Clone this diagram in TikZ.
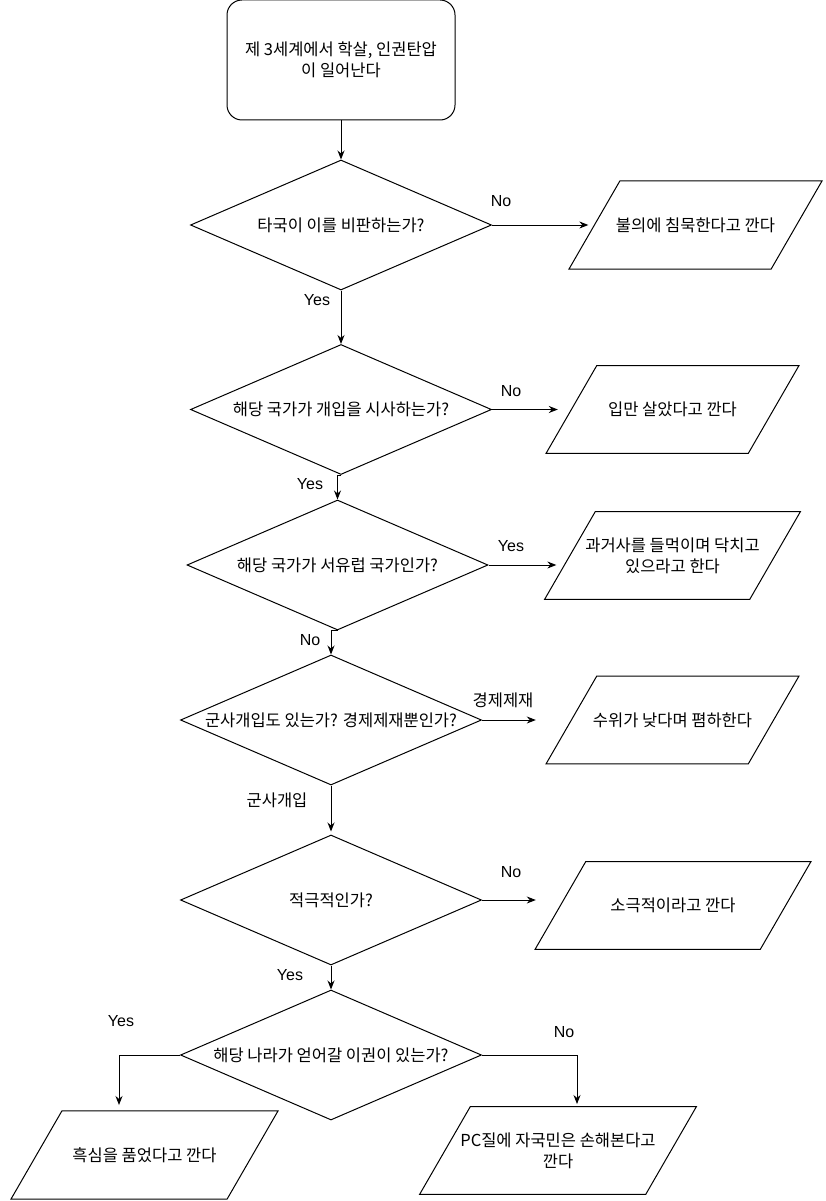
\documentclass[tikz,border=0pt]{standalone}
\usepackage{fontspec}
\setmainfont{Noto Sans CJK KR}
\newfontfamily\yesno{Liberation Sans}
\usetikzlibrary{shapes.geometric,arrows.meta}

\begin{document}
\begin{tikzpicture}[x=1pt,y=-1pt,line width=1pt,
font=\fontsize{16.5}{21}\selectfont,
startbox/.style={rectangle,draw,rounded corners=15pt,minimum width=228pt,minimum height=120pt,align=center},
askbox/.style={diamond,draw,aspect=2.3,minimum width=301pt,minimum height=130pt,inner sep=0pt,align=center},
iobox/.style={trapezium,draw,trapezium left angle=60,trapezium right angle=120,trapezium stretches body=true,minimum width=253pt,inner xsep=-6pt,inner ysep=36.5pt,align=center},
twoline/.style={inner ysep=26pt,inner xsep=-10pt},
lbl/.style={inner sep=0pt,font=\yesno\fontsize{16}{19}\selectfont},
krlbl/.style={inner sep=0pt},
arr/.style={-{Stealth[length=9pt,width=7pt]}}]
\useasboundingbox (0,0) rectangle (825,1201);
\path
(341,60) node(start) [startbox] {제 3세계에서 학살, 인권탄압\\이 일어난다}
(341,225) node(d1) [askbox] {타국이 이를 비판하는가?}
(341,409.5) node(d2) [askbox] {해당 국가가 개입을 시사하는가?}
(337.5,565) node(d3) [askbox] {해당 국가가 서유럽 국가인가?}
(331,720) node(d4) [askbox] {군사개입도 있는가? 경제제재뿐인가?}
(331,900) node(d5) [askbox] {적극적인가?}
(331,1055) node(d6) [askbox] {해당 나라가 얻어갈 이권이 있는가?}
(695.5,225) node(p1) [iobox] {불의에 침묵한다고 깐다}
(672.5,409.5) node(p2) [iobox] {입만 살았다고 깐다}
(672.5,555.5) node(p3) [iobox,twoline] {과거사를 들먹이며 닥치고\\있으라고 한다}
(672.5,720) node(p4) [iobox] {수위가 낮다며 폄하한다}
(673,905.5) node(p5) [iobox,minimum width=276pt] {소극적이라고 깐다}
(144.5,1155) node(p6) [iobox,minimum width=267pt] {흑심을 품었다고 깐다}
(558,1150.5) node(p7) [iobox,twoline,minimum width=272pt] {PC질에 자국민은 손해본다고\\깐다};
% labels
\path
(501,201) node(no1) [lbl] {No}
(317,300) node(yes1) [lbl] {Yes}
(511,391) node(no2) [lbl] {No}
(310,484) node(yes2) [lbl] {Yes}
(511,546) node(yes3) [lbl] {Yes}
(310,640) node(no3) [lbl] {No}
(503,700) node(econ) [krlbl] {경제제재}
(277,800) node(army) [krlbl] {군사개입}
(511,872) node(no4) [lbl] {No}
(290,975) node(yes4) [lbl] {Yes}
(121,1021) node(yes5) [lbl] {Yes}
(564,1032) node(no5) [lbl] {No};
\coordinate (p6in) at (119,1105);
\coordinate (p7in) at (577,1104);
\draw[arr] (start) -- (d1);
\draw[arr] (d1) -- (d2);
\draw[arr] (d2.south) -| (d3.north);
\draw[arr] (d3.south) -| (d4.north);
\draw[arr,shorten >=3pt] (d4) -- (d5);
\draw[arr] (d5) -- (d6);
\draw[arr,shorten >=5.5pt] (d1.east) -- (d1.east -| p1.west);
\draw[arr,shorten >=13pt] (d2.east) -- (d2.east -| p2.west);
\draw[arr,shorten >=13pt] (d3.east) -- (d3.east -| p3.west);
\draw[arr,shorten >=35pt] (d4.east) -- (d4.east -| p4.west);
\draw[arr,shorten >=24pt] (d5.east) -- (d5.east -| p5.west);
\draw[arr] (d6.west) -| (p6in);
\draw[arr] (d6.east) -| (p7in);
\end{tikzpicture}
\end{document}
